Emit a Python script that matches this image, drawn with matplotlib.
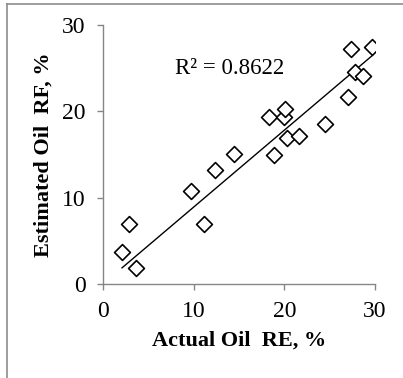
import numpy as np
import matplotlib
matplotlib.use("Agg")
import matplotlib.pyplot as plt
from matplotlib.lines import Line2D

actual_rf = [2.1, 2.9, 3.6, 9.7, 11.1, 12.3, 14.4, 18.3, 18.9, 20.0, 20.1, 20.3, 21.6, 24.5, 27.0, 27.4, 27.8, 28.7, 29.7]
estimated_rf = [3.7, 7.0, 1.8, 10.8, 7.0, 13.2, 15.0, 19.3, 14.9, 19.3, 20.3, 16.9, 17.1, 18.5, 21.7, 27.2, 24.6, 24.1, 27.5]
ticks = [0, 10, 20, 30]
r2_label = "R² = 0.8622"

plt.rcParams['font.family'] = ['Liberation Serif', 'DejaVu Serif']

W, H = 403, 378
fig = plt.figure(figsize=(W / 100, H / 100), dpi=100)
ax = fig.add_axes([103 / W, 1 - 284 / H, 272 / W, 259 / H])

x = np.array(actual_rf)
y = np.array(estimated_rf)
ax.scatter(x, y, marker='D', s=65, facecolors='white', edgecolors='black', linewidths=1.2, zorder=3)
# Excel-style linear trendline with intercept forced to zero
m = np.sum(x * y) / np.sum(x * x)
xx = np.array([x.min(), x.max()])
ax.plot(xx, m * xx, color='black', lw=1.0, zorder=2)

ax.text(14.0, 25.0, r2_label, fontsize=16.5, ha='center', va='center')

ax.set_xlim(0, 30)
ax.set_ylim(0, 30)
ax.set_xticks(ticks)
ax.set_yticks(ticks)
ax.tick_params(axis='both', labelsize=17, direction='out', length=4.5, width=1, color='#868686', pad=8)
for s in ['top', 'right']:
    ax.spines[s].set_visible(False)
for s in ['left', 'bottom']:
    ax.spines[s].set_color('#868686')
    ax.spines[s].set_linewidth(1)

ax.set_xlabel('Actual Oil  RE, %', fontsize=16, fontweight='bold', labelpad=6)
ax.set_ylabel('Estimated Oil  RF, %', fontsize=16, fontweight='bold', labelpad=6)

# partial outer frame (top and left edges visible)
fig.add_artist(Line2D([7 / W, 1.0], [1 - 4 / H, 1 - 4 / H], transform=fig.transFigure, color='#8c8c8c', lw=1.2))
fig.add_artist(Line2D([7 / W, 7 / W], [0.0, 1 - 4 / H], transform=fig.transFigure, color='#8c8c8c', lw=1.2))

fig.savefig('out.png', dpi=100)
